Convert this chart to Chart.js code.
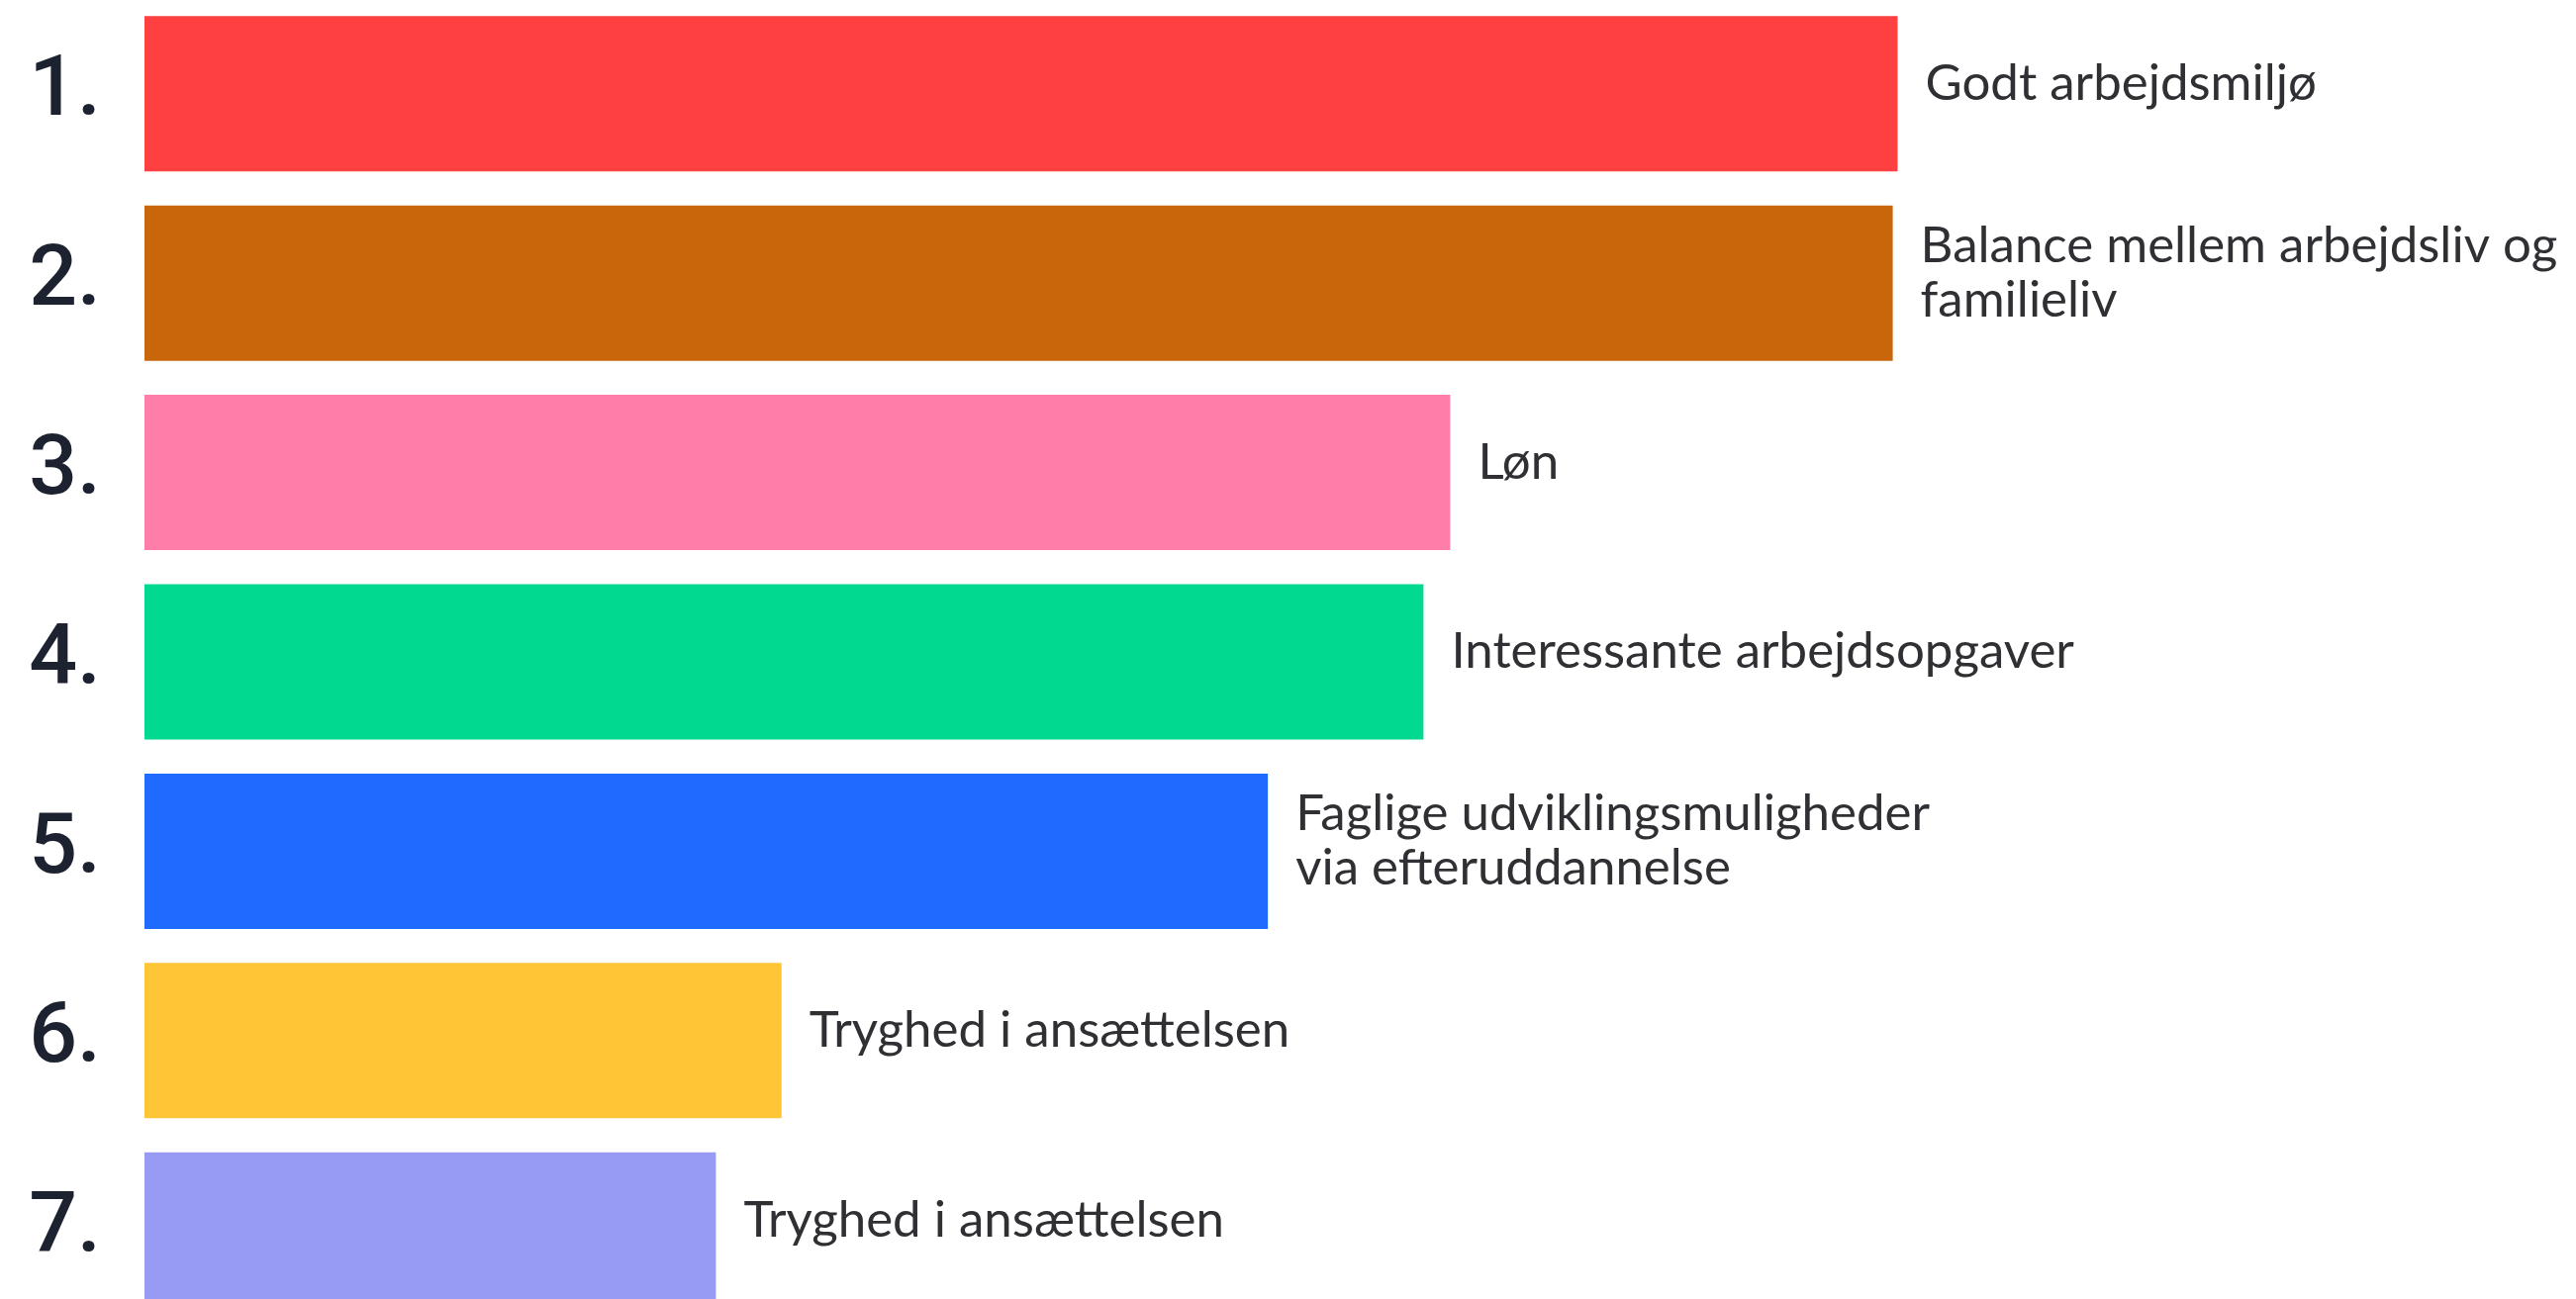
<!DOCTYPE html>
<html>
<head>
<meta charset="utf-8">
<script src="https://cdn.jsdelivr.net/npm/chart.js@4/dist/chart.umd.min.js"></script>
<style>
    html, body { margin: 0; padding: 0; background: #fff; overflow: hidden; }
    #wrap { position: absolute; left: 0; top: -1px; width: 2603px; height: 1340px; }
</style>
</head>
<body>
<div id="wrap"><canvas id="rank-chart"></canvas></div>
<script>
// rank numbers shown on the left
const ranks = ['1.', '2.', '3.', '4.', '5.', '6.', '7.'];

// bar labels, one entry per line
const itemLines = [
    ['Godt arbejdsmiljø'],
    ['Balance mellem arbejdsliv og', 'familieliv'],
    ['Løn'],
    ['Interessante arbejdsopgaver'],
    ['Faglige udviklingsmuligheder', 'via efteruddannelse'],
    ['Tryghed i ansættelsen'],
    ['Tryghed i ansættelsen']
];

// relative bar lengths
const scores = [72.1, 71.9, 53.7, 52.6, 46.2, 26.2, 23.5];

const barColors = ['#ff4040', '#c9660b', '#ff7ea9', '#00d98f', '#1f6bff', '#fec537', '#979bf3'];

const labelFont = '51px Lato';
const lineHeight = 55;

const barLabels = {
    id: 'barLabels',
    afterDatasetsDraw: function(chart) {
        const ctx = chart.ctx;
        const meta = chart.getDatasetMeta(0);
        ctx.save();
        ctx.font = labelFont;
        ctx.fillStyle = '#303034';
        ctx.textAlign = 'left';
        ctx.textBaseline = 'middle';
        meta.data.forEach((bar, i) => {
            const lines = itemLines[i];
            lines.forEach((line, j) => {
                const y = bar.y - 10 + (j - (lines.length - 1) / 2) * lineHeight;
                ctx.fillText(line, bar.x + 28, y);
            });
        });
        ctx.restore();
    }
};

new Chart(document.getElementById('rank-chart').getContext('2d'), {
    type: 'bar',
    data: {
        labels: ranks,
        datasets: [{
            data: scores,
            backgroundColor: barColors,
            borderWidth: 0,
            barPercentage: 0.82,
            categoryPercentage: 1
        }]
    },
    options: {
        indexAxis: 'y',
        responsive: true,
        maintainAspectRatio: false,
        animation: false,
        layout: { padding: 0 },
        plugins: {
            legend: { display: false },
            tooltip: { enabled: false }
        },
        scales: {
            x: {
                display: false,
                min: 0,
                max: 100
            },
            y: {
                grid: { display: false, drawTicks: false },
                border: { display: false },
                afterFit: function(scale) {
                    // fixed gutter for the rank numbers, no extra top/bottom room
                    scale.width = 146;
                    scale.paddingTop = 0;
                    scale.paddingBottom = 0;
                },
                ticks: {
                    autoSkip: false,
                    padding: 44,
                    color: '#1d2230',
                    font: { family: 'Roboto', size: 86, weight: '500' }
                }
            }
        }
    },
    plugins: [barLabels]
});
</script>
</body>
</html>
